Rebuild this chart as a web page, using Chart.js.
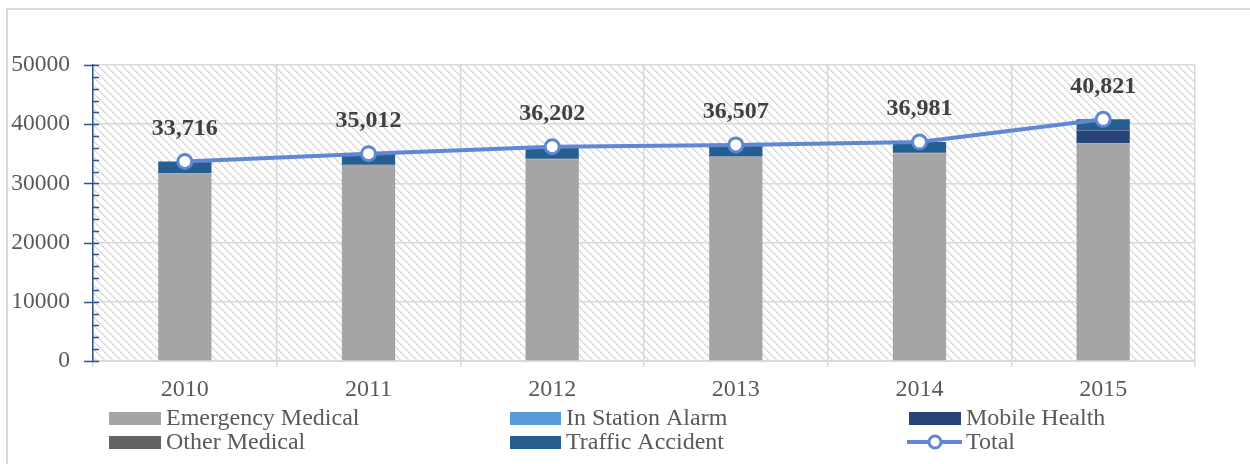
<!DOCTYPE html>
<html>
<head>
<meta charset="utf-8">
<script src="https://cdn.jsdelivr.net/npm/chart.js@4.4.1/dist/chart.umd.min.js"></script>
<style>
  html, body { margin: 0; padding: 0; background: #ffffff; }
  #wrap { width: 1250px; height: 464px; position: relative; }
</style>
</head>
<body>
<div id="wrap"><canvas id="c" width="1250" height="464"></canvas></div>
<script>
const years = ['2010', '2011', '2012', '2013', '2014', '2015'];
const emergencyMedical = [31700, 33100, 34100, 34500, 35100, 36800];
const inStationAlarm   = [20, 20, 20, 20, 20, 20];
const mobileHealth     = [0, 0, 0, 0, 0, 2100];
const otherMedical     = [30, 30, 40, 40, 40, 40];
const trafficAccident  = [1966, 1862, 2042, 1947, 1821, 1861];
const totals           = [33716, 35012, 36202, 36507, 36981, 40821];
const yTicks           = [0, 10000, 20000, 30000, 40000, 50000];

const SERIF = "'Liberation Serif', 'Times New Roman', serif";
const LINE_COLOR = '#5f87d3';

const hatch = (() => {
  const n = 8;
  const p = document.createElement('canvas');
  p.width = n; p.height = n;
  const g = p.getContext('2d');
  g.fillStyle = '#ffffff';
  g.fillRect(0, 0, n, n);
  g.fillStyle = '#dcdcdc';
  for (let yy = 0; yy < n; yy++) {
    for (let xx = 0; xx < n; xx++) {
      const d = ((xx - yy) % n + n) % n;
      if (d < 2) g.fillRect(xx, yy, 1, 1);
    }
  }
  return p;
})();

const bgPlugin = {
  id: 'bg',
  beforeDraw(chart) {
    const ctx = chart.ctx, a = chart.chartArea;
    ctx.save();
    ctx.fillStyle = '#ffffff';
    ctx.fillRect(0, 0, chart.width, chart.height);
    ctx.strokeStyle = '#d9d9d9';
    ctx.lineWidth = 2;
    ctx.strokeRect(7, 9, 1300, 500);
    ctx.fillStyle = ctx.createPattern(hatch, 'repeat');
    ctx.fillRect(a.left, a.top, a.right - a.left, a.bottom - a.top);
    ctx.restore();
  }
};

const axisPlugin = {
  id: 'yaxisTicks',
  afterDatasetsDraw(chart) {
    const ctx = chart.ctx, y = chart.scales.y, x0 = chart.chartArea.left;
    ctx.save();
    ctx.strokeStyle = '#2f528f';
    ctx.lineWidth = 1.5;
    ctx.beginPath();
    for (let v = 0; v <= 50000; v += 2000) {
      const py = Math.round(y.getPixelForValue(v)) + 0.5;
      if (v % 10000 === 0) {
        ctx.moveTo(x0 - 9, py); ctx.lineTo(x0 + 6, py);
      } else {
        ctx.moveTo(x0, py); ctx.lineTo(x0 + 6, py);
      }
    }
    ctx.stroke();
    ctx.restore();
  }
};

const labelPlugin = {
  id: 'totLabels',
  afterDatasetsDraw(chart) {
    const ctx = chart.ctx;
    const idx = chart.data.datasets.findIndex(d => d.type === 'line');
    const meta = chart.getDatasetMeta(idx);
    ctx.save();
    ctx.font = 'bold 24px ' + SERIF;
    ctx.fillStyle = '#404040';
    ctx.textAlign = 'center';
    ctx.textBaseline = 'middle';
    meta.data.forEach((pt, i) => {
      ctx.fillText(totals[i].toLocaleString('en-US'), pt.x, pt.y - 33);
    });
    ctx.restore();
  }
};

const legendPlugin = {
  id: 'customLegend',
  afterDraw(chart) {
    const ctx = chart.ctx;
    const ds = chart.data.datasets;
    const cols = [{bx: 109, bw: 52, tx: 166}, {bx: 510, bw: 51, tx: 566}, {bx: 909, bw: 52, tx: 966}];
    const rows = [418, 442];
    ctx.save();
    ctx.textBaseline = 'middle';
    ctx.textAlign = 'left';
    ctx.font = '24px ' + SERIF;
    ds.forEach((d, i) => {
      const c = cols[i % 3], ry = rows[Math.floor(i / 3)];
      if (d.type === 'line') {
        ctx.strokeStyle = d.borderColor;
        ctx.lineWidth = 4;
        ctx.beginPath();
        ctx.moveTo(c.bx - 2, ry); ctx.lineTo(c.bx + c.bw + 1, ry);
        ctx.stroke();
        ctx.beginPath();
        ctx.arc(c.bx + c.bw / 2, ry, 6, 0, Math.PI * 2);
        ctx.fillStyle = '#ffffff';
        ctx.fill();
        ctx.lineWidth = 3;
        ctx.stroke();
      } else {
        ctx.fillStyle = d.backgroundColor;
        ctx.fillRect(c.bx, ry - 6, c.bw, 13);
      }
      ctx.fillStyle = '#595959';
      ctx.fillText(d.label, c.tx, ry + 1);
    });
    ctx.restore();
  }
};

const barCommon = { type: 'bar', categoryPercentage: 1, barPercentage: 0.29, order: 1, stack: 'calls', borderWidth: 0 };

new Chart(document.getElementById('c'), {
  data: {
    labels: years,
    datasets: [
      Object.assign({ label: 'Emergency Medical', data: emergencyMedical, backgroundColor: '#a5a5a5' }, barCommon),
      Object.assign({ label: 'In Station Alarm', data: inStationAlarm, backgroundColor: '#5b9bd5' }, barCommon),
      Object.assign({ label: 'Mobile Health', data: mobileHealth, backgroundColor: '#264478' }, barCommon),
      Object.assign({ label: 'Other Medical', data: otherMedical, backgroundColor: '#636363' }, barCommon),
      Object.assign({ label: 'Traffic Accident', data: trafficAccident, backgroundColor: '#255e91' }, barCommon),
      {
        type: 'line', label: 'Total', data: totals, order: 0, stack: 'total',
        borderColor: LINE_COLOR, borderWidth: 4, tension: 0,
        pointRadius: 7, pointHoverRadius: 7, pointBackgroundColor: '#ffffff',
        pointBorderColor: LINE_COLOR, pointBorderWidth: 3
      }
    ]
  },
  options: {
    responsive: false,
    animation: false,
    events: [],
    layout: { padding: { top: 65, right: 55, left: 0, bottom: 0 } },
    plugins: { legend: { display: false }, tooltip: { enabled: false } },
    scales: {
      x: {
        stacked: true,
        afterFit(s) { s.height = 103; },
        grid: { offset: true, color: '#d9d9d9', lineWidth: 1.5, tickLength: 6, drawTicks: true },
        border: { display: true, color: '#d9d9d9', width: 2 },
        ticks: { color: '#595959', font: { family: SERIF, size: 24 }, padding: 8, maxRotation: 0 }
      },
      y: {
        stacked: true,
        min: 0, max: 50000,
        afterFit(s) { s.width = 93; },
        afterBuildTicks(s) { s.ticks = yTicks.map(v => ({ value: v })); },
        grid: { color: '#d9d9d9', lineWidth: 1.5, drawTicks: false },
        border: { display: true, color: '#2f528f', width: 1.5 },
        ticks: { color: '#595959', font: { family: SERIF, size: 23.5 }, padding: 23, callback: v => String(v) }
      }
    }
  },
  plugins: [bgPlugin, axisPlugin, labelPlugin, legendPlugin]
});
</script>
</body>
</html>
